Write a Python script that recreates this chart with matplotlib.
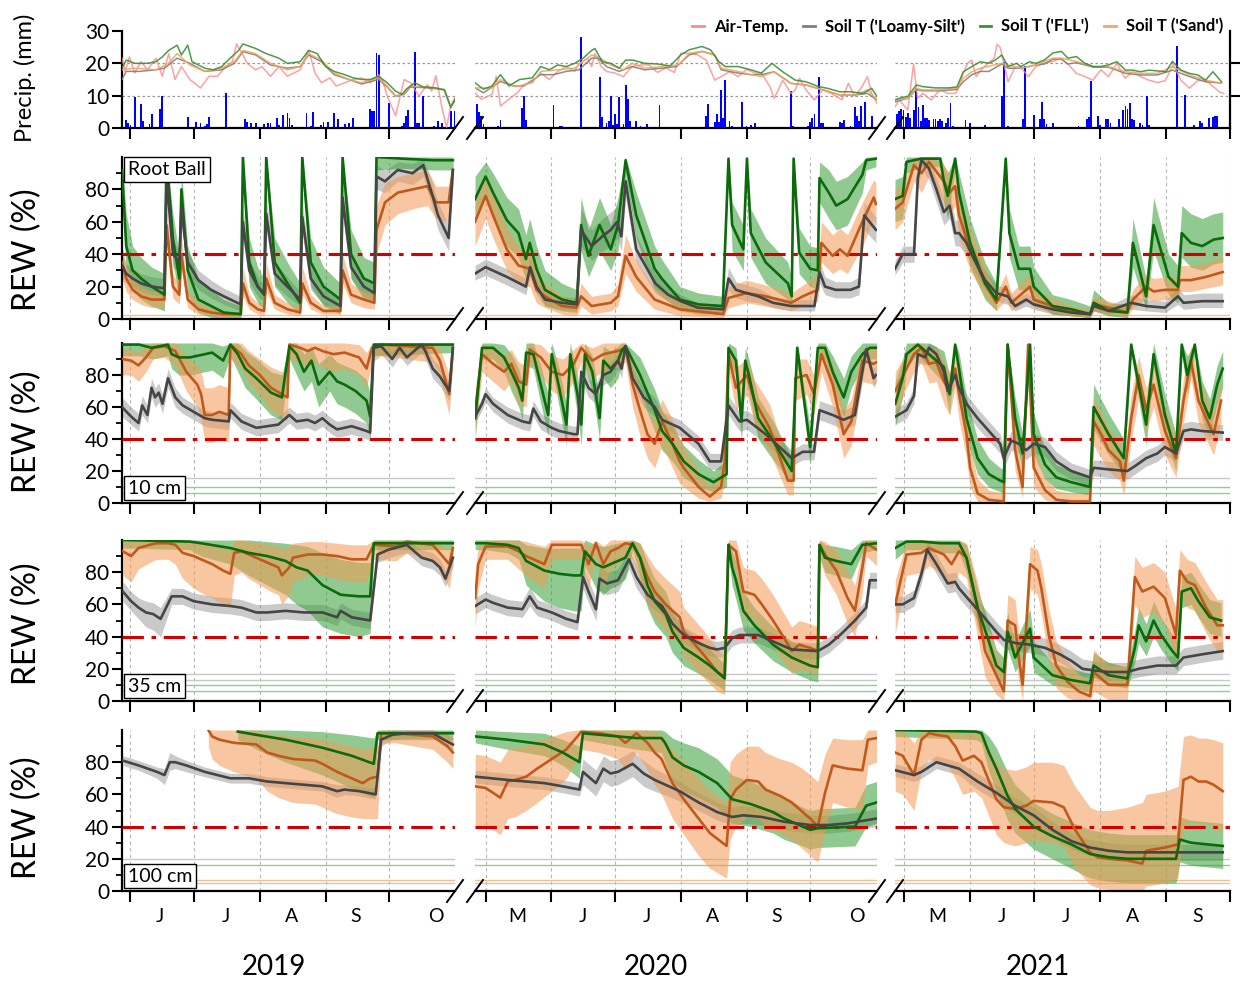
import numpy as np
import matplotlib.pyplot as plt
from matplotlib.lines import Line2D

plt.rcParams['font.family'] = ['Lato', 'DejaVu Sans']

# ---------------- precipitation (day of year, mm) ----------------
P19_DAY = [150, 151, 152, 154, 157, 158, 161, 162, 166, 167, 179, 183, 185, 187, 188, 189, 197, 206, 207, 209,
           211, 215, 217, 218, 221, 222, 224, 226, 227, 228, 235, 237, 238, 242, 243, 245, 248, 250, 253, 255,
           257, 263, 265, 266, 267, 268, 269, 274, 280, 281, 282, 283, 286, 287, 288, 290, 295, 297, 299, 303, 305]
P19_MM = [2.4, 1.5, 1.0, 9.5, 7.5, 2.2, 1.2, 4.3, 5.8, 9.9, 3.4, 1.8, 1.5, 0.7, 1.2, 3.4, 10.7, 2.9, 2.0, 1.4,
          1.4, 1.2, 1.4, 1.4, 3.0, 1.0, 3.9, 4.5, 3.0, 0.9, 4.6, 0.7, 4.8, 0.9, 1.9, 2.0, 4.5, 2.7, 1.2, 1.5,
          3.2, 0.2, 6.0, 5.4, 5.3, 23.3, 22.5, 7.6, 0.5, 1.7, 3.6, 5.5, 23.5, 1.5, 1.5, 9.9, 0.5, 2.3, 1.5, 5.3, 5.3]
P20_DAY = [118, 119, 120, 121, 128, 129, 139, 140, 141, 145, 154, 157, 158, 167, 176, 177, 179, 180, 181, 182,
           183, 184, 185, 187, 188, 189, 190, 193, 195, 198, 204, 226, 227, 230, 231, 232, 233, 234, 235, 237,
           238, 243, 245, 247, 249, 266, 267, 274, 275, 276, 277, 279, 280, 281, 289, 290, 291, 294, 296, 297,
           298, 299, 301, 304]
P20_MM = [7.3, 4.8, 3.6, 1.2, 0.7, 2.5, 6.3, 10.0, 2.5, 0.4, 7.0, 0.5, 0.5, 28.2, 15.7, 3.5, 1.7, 2.2, 9.9, 1.0,
          4.4, 1.3, 9.6, 1.2, 13.4, 9.0, 2.2, 2.1, 0.7, 1.2, 7.0, 3.6, 7.5, 1.9, 4.3, 1.9, 11.9, 3.0, 15.0, 2.2,
          0.7, 8.1, 0.7, 0.9, 1.5, 11.4, 0.7, 0.7, 1.9, 3.2, 4.3, 15.8, 1.5, 1.5, 1.9, 1.5, 2.5, 0.5, 6.4, 3.6,
          2.3, 6.8, 8.0, 3.6]
P21_DAY = [118, 119, 120, 121, 122, 123, 124, 126, 127, 128, 129, 130, 131, 132, 133, 135, 136, 137, 138, 139,
           141, 142, 143, 144, 150, 152, 154, 159, 167, 168, 170, 172, 175, 177, 178, 180, 182, 185, 186, 187,
           188, 191, 197, 203, 207, 208, 209, 210, 212, 213, 216, 217, 218, 222, 224, 225, 226, 227, 228, 229,
           232, 233, 235, 236, 237, 243, 249, 250, 253, 257, 260, 261, 264, 266, 267, 268]
P21_MM = [4.4, 5.2, 5.9, 5.7, 3.5, 4.6, 3.2, 5.7, 12.5, 6.5, 2.1, 7.2, 3.1, 3.0, 2.4, 2.9, 2.7, 2.1, 2.9, 2.3,
          1.4, 3.0, 7.8, 0.6, 2.4, 1.4, 0.4, 0.8, 9.8, 20.3, 0.6, 0.4, 0.4, 2.7, 19.2, 0.4, 3.9, 2.7, 8.0, 2.7,
          1.3, 1.6, 0.4, 0.6, 2.9, 3.4, 14.6, 0.4, 3.7, 0.8, 2.9, 2.9, 1.6, 2.9, 5.5, 6.7, 5.9, 7.6, 2.9, 2.5,
          1.4, 0.8, 9.8, 0.8, 0.4, 0.4, 25.3, 0.4, 10.2, 0.8, 2.1, 1.6, 3.2, 3.5, 3.7, 3.7]

# ---------------- temperatures (day, degC) ----------------
T_AIR_19 = [(148, 21.6), (149.5, 17.5), (151.5, 22), (154, 17), (157, 20.5), (160, 18), (164, 21.6), (167, 16),
            (170, 23), (173, 15), (176, 19), (180, 15), (185, 12.4), (189, 16), (193, 16), (197, 19), (200, 20.5),
            (202, 26), (205, 22.6), (207, 20), (211, 18), (214, 19), (218, 16), (222, 19), (226, 16), (232, 18),
            (236, 24), (239, 17), (242, 14), (246, 15.5), (249, 13), (253, 14), (257, 15), (261, 15.5), (265, 14),
            (269, 16.5), (271, 14.4), (273, 9.9), (277, 3.8), (281, 15), (284, 14), (288, 9.9), (292, 13.4),
            (294, 11.4), (296, 16.2), (299, 5.8), (301, 0.2), (303, 6.8), (305, 9.4)]
T_SILT_19 = [(148, 15), (150, 17.5), (156, 17.5), (164, 18), (168, 18.5), (174, 21.6), (180, 20), (187, 17.5),
             (195, 18), (201, 20), (205, 23.6), (211, 22.6), (218, 19.5), (226, 18.5), (232, 19), (236, 22.6),
             (242, 20.5), (248, 16.5), (255, 15), (261, 13.6), (269, 15), (273, 12.7), (277, 9.9), (281, 10.4),
             (284, 12.7), (292, 12.4), (300, 11.9), (303, 6.6), (305, 8.3)]
T_FLL_19 = [(148, 18.5), (150, 21), (154, 20), (160, 20), (164, 20.5), (167, 22), (170, 24), (174, 25.6),
            (176, 22.6), (179, 25.6), (181, 20.5), (187, 18.5), (191, 18), (195, 19), (199, 21.6), (203, 24),
            (205, 26), (211, 24.6), (216, 23), (222, 21.6), (226, 20), (232, 20.5), (236, 24), (240, 23),
            (244, 19), (248, 17.5), (253, 16.5), (257, 15.5), (261, 15), (265, 15), (269, 16), (273, 14),
            (277, 11.4), (280, 10.4), (282, 12), (286, 14), (290, 12.7), (296, 12.4), (300, 11.7), (303, 6.3),
            (305, 8.9)]
T_SAND_19 = [(148, 18), (154, 18.5), (164, 18), (170, 20), (174, 23), (180, 19.5), (187, 17.5), (195, 18.5),
             (201, 20.5), (205, 24), (211, 23), (218, 20), (226, 18), (232, 19), (236, 23), (242, 21), (248, 17),
             (255, 15), (261, 14), (269, 15.5), (273, 13), (277, 9.9), (281, 10.7), (284, 13), (292, 12.7),
             (300, 11.9), (303, 6.6), (305, 8.9)]
T_AIR_20 = [(117, 10.9), (120, 8.9), (125, 10.4), (127, 16), (129, 6.8), (133, 8.9), (137, 10.9), (140, 13.4),
            (144, 14.4), (148, 17), (152, 15), (156, 17.5), (160, 19), (164, 17.5), (166, 20), (170, 21.6),
            (172, 19), (173.5, 23), (176.5, 19), (179, 17.5), (183, 17), (187, 15.9), (191, 19), (195, 19.5),
            (199, 19.5), (203, 17.2), (207, 18.6), (211, 17.2), (214, 23.1), (218, 23.1), (222, 22.6), (226, 21),
            (230, 14.8), (233, 15.9), (237, 17.4), (241, 15.9), (245, 18.1), (249, 17), (252, 17), (256, 12.8),
            (258, 9.2), (260, 11.8), (262, 14.8), (266, 10.7), (268, 11.8), (270, 15.4), (273, 11.8), (277, 8.7),
            (281, 11.8), (285, 10.7), (290, 8.7), (293, 13.8), (296, 9.9), (299, 12.3), (302, 15.9), (304, 10.7),
            (306.5, 7.6)]
T_SILT_20 = [(117, 12.4), (121, 10.9), (129, 14.4), (135, 13), (140, 13), (148, 16.5), (154, 16.5), (160, 17.5),
             (166, 18), (172, 21.6), (175, 21.6), (179, 19), (185, 17.5), (191, 19), (197, 18), (205, 18.5),
             (212, 19), (218, 22.6), (224, 23.7), (230, 22.6), (233, 18), (241, 17), (247, 16.5), (252, 16.5),
             (258, 17.4), (266, 13.8), (273, 13.3), (281, 11.8), (289, 10.2), (296, 10.2), (302, 10.7), (306.5, 8.7)]
T_FLL_20 = [(117, 14), (121, 12), (125, 13), (129, 16.5), (133, 13), (138, 15), (144, 15.5), (148, 19), (152, 18),
            (156, 19.5), (160, 19), (164, 20), (168, 21.6), (172, 24), (173.5, 24.6), (177, 20.5), (181, 20),
            (185, 18.5), (188, 21), (191.5, 21), (197, 20), (203, 19.8), (209, 19.2), (214, 22.6), (218, 24.2),
            (224, 25.2), (228, 24.2), (232, 20.5), (235, 19), (241, 19), (247, 18), (252, 17), (257, 20),
            (262, 17.4), (268, 14.8), (273, 14.3), (279, 12.8), (283, 12.3), (289, 11.2), (294, 11.2), (300, 10.7),
            (304, 12.3), (306.5, 9.7)]
T_SAND_20 = [(117, 12.4), (125, 12.4), (129, 15), (136, 12.8), (144, 14), (148, 17.5), (156, 18), (164, 18.5),
             (172, 22.6), (175, 22), (181, 19.5), (187, 18), (191, 20), (197, 18.5), (205, 19), (213, 19.5),
             (218, 23.1), (224, 23.7), (230, 22.6), (233, 18.5), (241, 17.5), (247, 16.5), (252, 15.9), (258, 17.4),
             (266, 13.8), (273, 13.3), (281, 11.8), (289, 10.2), (296, 10.2), (302, 11.8), (306.5, 8.7)]
T_AIR_21 = [(117, 6.6), (119, 8.7), (123, 5.6), (125.7, 19.8), (127.6, 9.2), (130, 10.7), (134, 8.7), (138, 11.8),
            (142, 10.7), (145.5, 10.7), (148.4, 15.9), (151, 20), (153, 21), (155, 15.9), (158, 18.5), (160.6, 20),
            (163.5, 21.6), (164.8, 25.9), (166.3, 24.9), (168, 20), (170, 14.3), (173, 18.5), (175.7, 19),
            (179.5, 15.9), (183, 19), (187, 20), (191, 20.6), (194.6, 21.6), (198.4, 19.5), (202, 16.9), (206, 15.9),
            (209.7, 14.8), (213.5, 18), (217, 15.9), (221, 20), (224.8, 15.4), (228.5, 17.4), (232, 15.9),
            (236, 14.8), (240, 14.1), (243.6, 14.6), (247.4, 19.6), (251, 14.8), (255, 12.3), (258.7, 14.6),
            (262.5, 14.8), (266, 12.9), (269, 11.2), (271, 10.7)]
T_SILT_21 = [(117, 8.1), (123, 9.2), (127, 11.9), (130, 11.5), (138, 11.5), (146, 11.9), (149, 14.3), (153, 16.5),
             (157, 17.5), (161, 17.5), (167, 19.8), (170, 18.5), (176, 18.5), (183, 19.5), (187, 19.8), (191, 21.3),
             (195, 21.3), (198, 19.8), (202, 20.2), (210, 18.8), (217, 18.8), (225, 16.9), (232, 16.4), (240, 16.4),
             (247, 17.9), (255, 15.9), (262.5, 14.3), (270, 13.9)]
T_FLL_21 = [(117, 8.7), (119, 9.2), (123, 9.8), (127, 13.3), (130, 12.8), (136, 12.4), (142, 12.4), (146, 12.7),
            (149, 17.4), (153, 19), (157, 20.5), (161, 20), (164, 21), (167, 22.6), (170, 19), (174, 20), (176, 19),
            (180, 20.5), (183, 20), (187, 21), (191, 23.2), (195, 23.7), (198, 21.6), (202, 22.1), (206, 20),
            (210, 19), (213.5, 19), (217, 19.5), (221, 20.5), (225, 17.9), (228.5, 17.9), (232, 17.4), (236, 17.9),
            (244, 17.4), (247, 20.6), (251, 17.9), (255, 16.9), (259, 16.4), (262.5, 14.8), (266, 17.4), (270, 14.3)]
T_SAND_21 = [(117, 8.7), (123, 9.2), (127, 12.3), (130, 11.8), (138, 11.8), (146, 12.3), (149, 15.4), (153, 17.4),
             (157, 18.5), (167, 20), (176, 18.5), (183, 19.5), (191, 21.6), (195, 21.6), (202, 20.6), (210, 19),
             (217, 19), (225, 17.4), (232, 16.9), (240, 16.9), (247, 19), (255, 16.4), (262.5, 14.8), (270, 13.9)]

# ---------------- REW (day, low, median, high) ----------------
# Root ball
RB_SILT_19 = [(148, 25, 33, 40), (150, 22, 28, 34), (153, 20, 25, 31), (157, 17, 22, 28), (162, 15, 20, 26),
              (168, 14, 19, 25), (169, 75, 88, 95), (172, 32, 40, 48), (175, 28, 35, 42), (176, 58, 68, 78),
              (179, 28, 35, 42), (184, 18, 24, 30), (190, 13, 18, 24), (196, 9, 14, 19), (204, 5, 9, 14),
              (205, 50, 60, 70), (208, 23, 30, 37), (212, 14, 20, 26), (215, 11, 16, 21), (216, 55, 65, 75),
              (220, 21, 28, 35), (226, 14, 20, 26), (232, 8, 12, 17), (233, 52, 63, 72), (237, 18, 25, 32),
              (243, 9, 14, 19), (251, 4, 8, 12), (252, 65, 75, 85), (256, 25, 32, 40), (262, 14, 20, 26),
              (267, 11, 16, 21), (268, 80, 88, 95), (272, 78, 85, 92), (278, 85, 92, 97), (285, 83, 90, 96),
              (290, 88, 95, 99), (294, 70, 78, 86), (297, 55, 64, 72), (302, 42, 50, 58), (304, 85, 92, 98)]
RB_FLL_19 = [(148, 75, 92, 100), (150, 30, 45, 65), (153, 18, 30, 45), (157, 12, 25, 38), (162, 8, 20, 32),
             (168, 5, 15, 28), (169, 90, 100, 100), (172, 35, 50, 65), (175, 12, 25, 40), (176, 65, 80, 92),
             (179, 15, 30, 45), (184, 4, 12, 25), (190, 1, 8, 18), (196, 0, 4, 12), (204, 0, 3, 8),
             (205, 90, 100, 100), (208, 20, 35, 50), (212, 10, 20, 32), (215, 6, 15, 25), (216, 90, 100, 100),
             (220, 20, 35, 50), (226, 10, 22, 35), (232, 3, 10, 22), (233, 90, 100, 100), (237, 20, 35, 50),
             (243, 8, 20, 32), (251, 3, 12, 22), (252, 90, 100, 100), (256, 25, 40, 55), (262, 12, 25, 38),
             (267, 10, 22, 35), (268, 92, 100, 100), (280, 93, 99, 100), (295, 92, 98, 100), (304, 92, 98, 100)]
RB_SAND_19 = [(148, 25, 35, 45), (150, 17, 25, 33), (153, 12, 18, 25), (157, 9, 14, 20), (162, 7, 12, 17),
              (168, 7, 12, 17), (169, 45, 58, 70), (172, 13, 20, 28), (175, 9, 15, 21), (176, 30, 40, 50),
              (179, 7, 12, 18), (184, 3, 6, 10), (190, 2, 4, 7), (196, 1, 3, 5), (204, 1, 3, 5), (205, 14, 22, 32),
              (208, 6, 10, 15), (212, 3, 6, 10), (215, 2, 5, 8), (216, 17, 25, 35), (220, 6, 10, 15), (226, 3, 6, 10),
              (232, 2, 4, 7), (233, 15, 22, 32), (237, 6, 10, 15), (243, 3, 5, 8), (251, 3, 5, 8), (252, 22, 30, 40),
              (256, 10, 15, 22), (262, 7, 12, 17), (267, 6, 10, 15), (268, 40, 55, 70), (272, 58, 72, 84),
              (278, 65, 78, 88), (285, 68, 80, 90), (292, 70, 82, 92), (296, 62, 72, 82), (302, 60, 72, 82),
              (304, 82, 92, 98)]
RB_SILT_20 = [(117, 24, 28, 33), (122, 27, 32, 37), (132, 21, 26, 31), (141, 15, 20, 25), (143, 26, 32, 38),
              (146, 15, 20, 25), (150, 8, 12, 17), (158, 6, 10, 14), (165, 5, 9, 13), (167, 45, 55, 68),
              (172, 36, 45, 55), (177, 42, 51, 62), (181, 45, 55, 66), (184, 50, 60, 70), (186, 42, 51, 62),
              (188, 75, 85, 93), (193, 35, 43, 52), (202, 16, 22, 28), (208, 11, 15, 20), (214, 7, 11, 15),
              (222, 4, 7, 10), (234, 3, 6, 9), (236.5, 18, 25, 32), (240, 13, 18, 23), (245, 11, 16, 21),
              (250.5, 10, 14, 19), (257.5, 7, 10, 14), (266, 5, 8, 12), (277, 5, 8, 12), (279.4, 22, 29, 36),
              (282, 15, 20, 26), (287, 13, 18, 23), (294, 13, 18, 23), (298, 15, 20, 26), (300.5, 55, 64, 72),
              (306, 47, 55, 63)]
RB_FLL_20 = [(117, 60, 74, 88), (122, 75, 88, 97), (125.5, 63, 78, 90), (132, 45, 61, 75), (137.5, 38, 53, 68),
             (141, 24, 37, 52), (142.8, 33, 47, 62), (146, 18, 31, 45), (150, 8, 18, 30), (158, 5, 12, 22),
             (165, 4, 10, 18), (167, 42, 58, 75), (170.5, 26, 39, 55), (175.7, 42, 58, 75), (181, 30, 43, 58),
             (184.4, 42, 58, 75), (188, 90, 98, 100), (193, 50, 64, 78), (201.7, 18, 31, 45), (205, 14, 25, 37),
             (213.6, 5, 12, 20), (222.4, 3, 9, 16), (233.8, 3, 8, 14), (236.5, 92, 99, 100), (238.2, 42, 58, 72),
             (243.5, 30, 43, 58), (245.2, 92, 99, 100), (247, 38, 53, 68), (254, 22, 35, 50), (264.5, 12, 22, 35),
             (266.3, 7, 14, 25), (267.2, 92, 99, 100), (269.8, 28, 41, 56), (275, 20, 31, 45), (278.6, 18, 30, 44),
             (279.4, 72, 87, 97), (283.8, 62, 78, 92), (287.3, 55, 70, 85), (292.6, 58, 74, 88), (299.6, 78, 89, 97),
             (301.4, 92, 98, 100), (306, 94, 99, 100)]
RB_SAND_20 = [(117, 45, 60, 72), (122, 62, 76, 88), (125.5, 50, 64, 77), (132, 30, 43, 56), (137.5, 22, 33, 45),
              (142.8, 20, 31, 42), (146, 10, 18, 28), (150, 7, 14, 22), (158, 3, 8, 14), (165, 2, 7, 12),
              (167, 8, 14, 22), (172, 3, 8, 14), (181, 5, 10, 16), (184.4, 8, 14, 22), (188, 28, 39, 52),
              (193, 17, 26, 36), (201.7, 6, 12, 19), (213.5, 2, 6, 11), (234, 1, 3, 7), (236.5, 7, 13, 20),
              (245, 10, 16, 24), (254, 8, 14, 21), (266, 5, 10, 16), (271.5, 8, 14, 21), (278.6, 11, 18, 27),
              (280.3, 35, 47, 60), (285.6, 28, 39, 52), (289, 31, 43, 56), (292.6, 28, 39, 52), (299.6, 45, 60, 72),
              (305, 62, 75, 86), (306, 58, 71, 84)]
RB_SILT_21 = [(117, 27, 31, 36), (120.6, 35, 40, 45), (125.9, 35, 40, 45), (127.7, 80, 87, 93), (129.4, 93, 98, 100),
              (132.9, 86, 93, 98), (136.4, 72, 80, 87), (139.9, 58, 66, 74), (142.6, 62, 70, 78), (145.2, 45, 53, 61),
              (147, 45, 53, 61), (150.5, 40, 47, 55), (154, 30, 37, 44), (159.2, 18, 24, 30), (164.5, 11, 16, 21),
              (169.8, 9, 14, 19), (173.3, 5, 8, 12), (178.5, 8, 12, 16), (182, 6, 9, 13), (190.8, 3, 6, 9),
              (199.6, 2, 4, 7), (208.4, 1, 3, 5), (210.1, 5, 8, 12), (217.1, 3, 5, 8), (227.7, 6, 10, 15),
              (234.7, 5, 8, 12), (243.5, 4, 7, 11), (249.6, 9, 14, 20), (252.2, 6, 10, 15), (261, 7, 11, 16),
              (270.6, 7, 11, 16)]
RB_FLL_21 = [(117, 60, 74, 86), (120.6, 62, 76, 88), (122.4, 90, 97, 100), (129.4, 94, 99, 100), (138.2, 94, 99, 100),
             (139.9, 72, 85, 95), (141.7, 62, 76, 90), (145.2, 92, 99, 100), (147, 64, 78, 90), (152.2, 32, 47, 62),
             (159.2, 12, 22, 35), (164.5, 5, 12, 22), (168.9, 92, 99, 100), (170.6, 38, 53, 68), (175, 18, 31, 45),
             (180.3, 18, 31, 45), (182, 10, 20, 32), (190.8, 3, 8, 15), (199.6, 2, 6, 12), (208.4, 1, 3, 8),
             (210.1, 5, 10, 18), (217.1, 2, 5, 10), (225.9, 1, 4, 9), (228.5, 32, 47, 62), (234.7, 6, 14, 25),
             (238.2, 42, 58, 75), (245.2, 15, 26, 40), (249.6, 10, 20, 33), (251.4, 38, 53, 70), (255.7, 32, 47, 65),
             (261, 30, 45, 62), (266.3, 34, 49, 65), (270.6, 35, 50, 66)]
RB_SAND_21 = [(117, 55, 68, 80), (120.6, 60, 72, 83), (125.9, 85, 95, 100), (129.4, 78, 90, 98), (132.9, 88, 97, 100),
              (139.9, 72, 85, 95), (142.6, 65, 78, 90), (145.2, 70, 82, 93), (147, 50, 64, 77), (152.2, 30, 43, 56),
              (159.2, 14, 22, 32), (164.5, 5, 10, 16), (168.9, 12, 20, 28), (171.5, 5, 10, 16), (180.3, 12, 20, 28),
              (182, 7, 12, 18), (190.8, 4, 8, 13), (199.6, 2, 4, 8), (208.4, 1, 3, 6), (210.1, 5, 9, 14),
              (217.1, 3, 7, 11), (225.9, 1, 4, 8), (228.5, 7, 12, 18), (234.7, 13, 20, 28), (238.2, 11, 17, 25),
              (243.5, 12, 18, 26), (249.6, 12, 18, 26), (250.5, 17, 24, 33), (255.7, 17, 24, 33), (262.8, 19, 26, 35),
              (270.6, 21, 29, 38)]
# 10 cm
S10_SILT_19 = [(148, 54, 60, 66), (152.3, 49, 54, 60), (155.8, 45, 50, 56), (157.5, 55, 61, 67), (160, 50, 55, 61),
               (161.9, 66, 72, 78), (163.6, 60, 66, 72), (165.3, 63, 69, 75), (167.1, 56, 62, 68), (169.7, 72, 78, 84),
               (173.1, 60, 66, 72), (176.6, 56, 61, 66), (181.8, 52, 57, 62), (187, 48, 53, 58), (190.5, 47, 52, 57),
               (198.3, 46, 51, 56), (199.1, 53, 58, 63), (204.3, 46, 51, 56), (211.3, 42, 47, 52), (216.5, 43, 48, 53),
               (221.7, 44, 49, 54), (226.9, 50, 55, 60), (230.3, 46, 51, 56), (235.5, 47, 52, 57), (239, 45, 50, 55),
               (242.5, 48, 53, 58), (245.9, 44, 49, 54), (249.4, 41, 46, 51), (256.3, 43, 48, 53), (263.3, 40, 45, 50),
               (265, 39, 44, 49), (266.7, 92, 97, 100), (270.2, 93, 98, 100), (275.4, 85, 90, 95), (278.9, 92, 97, 100),
               (282.3, 86, 91, 96), (287.5, 92, 97, 100), (289.3, 94, 99, 100), (291, 90, 95, 100), (294.5, 78, 84, 90),
               (297.9, 73, 79, 85), (302.3, 64, 70, 76), (304, 92, 97, 100)]
S10_FLL_19 = [(148, 92, 99, 100), (156, 92, 99, 100), (162, 90, 97, 100), (169.7, 92, 99, 100), (171.4, 84, 93, 100),
              (174.9, 80, 91, 100), (180.1, 80, 91, 100), (187, 82, 93, 100), (190.5, 83, 94, 100), (195.7, 78, 89, 98),
              (199.1, 92, 99, 100), (202.6, 82, 93, 100), (206.1, 72, 84, 95), (211.3, 65, 78, 90), (218.2, 55, 69, 82),
              (223.4, 52, 66, 80), (226.9, 90, 98, 100), (230.3, 80, 93, 100), (233.8, 70, 82, 93), (237.3, 76, 89, 98),
              (240.7, 60, 74, 87), (245.9, 70, 82, 93), (249.4, 62, 76, 88), (252.9, 60, 74, 86), (258.1, 56, 70, 83),
              (263.3, 50, 64, 77), (265, 40, 54, 68), (266.7, 92, 99, 100), (304, 94, 99, 100)]
S10_SAND_19 = [(148, 80, 90, 97), (152.3, 80, 89, 96), (155.8, 76, 86, 94), (159.3, 82, 91, 98), (162.7, 90, 97, 100),
               (168, 91, 98, 100), (173.1, 86, 95, 100), (178.3, 70, 82, 92), (183.5, 60, 74, 86), (185.3, 52, 68, 82),
               (187, 38, 55, 72), (190.5, 38, 55, 72), (193.9, 40, 57, 74), (198.3, 38, 55, 72), (199.1, 90, 99, 100),
               (204.3, 84, 93, 100), (207.8, 75, 86, 95), (213, 68, 80, 90), (218.2, 58, 72, 85), (223.4, 54, 68, 82),
               (226, 52, 66, 80), (226.9, 90, 99, 100), (232.1, 88, 97, 100), (235.5, 85, 95, 100), (239, 88, 97, 100),
               (242.5, 85, 95, 100), (247.7, 82, 93, 100), (252.9, 84, 94, 100), (259.8, 80, 91, 99), (263.3, 72, 84, 94),
               (265.9, 88, 97, 100), (270.2, 92, 99, 100), (294.5, 88, 97, 100), (297.9, 78, 89, 97), (302.3, 55, 68, 80),
               (304, 88, 97, 100)]
S10_SILT_20 = [(117.1, 50, 54, 58), (120.3, 58, 62, 66), (122, 63, 68, 72), (125.5, 57, 62, 66), (132.4, 50, 55, 60),
               (139.3, 46, 51, 56), (142.8, 45, 50, 55), (144.5, 54, 59, 64), (148, 46, 51, 56), (153.2, 42, 47, 52),
               (156.7, 40, 45, 50), (163.6, 38, 43, 48), (165.3, 38, 43, 48), (167.1, 76, 82, 88), (170.5, 66, 72, 78),
               (174, 62, 68, 74), (177.5, 74, 80, 86), (180.9, 76, 82, 88), (184.4, 84, 89, 94), (186.1, 78, 84, 90),
               (187.9, 94, 98, 100), (191.3, 72, 78, 84), (196.5, 60, 66, 72), (201.7, 54, 60, 66), (205.2, 47, 52, 57),
               (213.5, 42, 47, 52), (222.4, 32, 37, 42), (227.7, 21, 26, 31), (233, 21, 26, 31), (236.5, 55, 61, 67),
               (241.7, 45, 51, 57), (245.2, 46, 52, 58), (254, 37, 43, 49), (266.3, 23, 28, 33), (271.5, 27, 32, 37),
               (276.8, 27, 32, 37), (279.4, 52, 58, 64), (285.6, 49, 55, 61), (290.8, 46, 52, 58), (296.1, 49, 55, 61),
               (301.4, 91, 96, 100), (304.9, 72, 78, 84), (306, 75, 80, 86)]
S10_FLL_20 = [(117.1, 40, 53, 66), (120.3, 90, 97, 100), (125.5, 90, 97, 100), (130.7, 82, 91, 99), (134.1, 70, 82, 93),
              (137.6, 60, 72, 84), (139.3, 52, 64, 76), (141.1, 86, 94, 100), (144.5, 84, 93, 100), (148, 62, 74, 86),
              (151.5, 42, 55, 68), (153.2, 84, 93, 100), (156.7, 60, 72, 84), (160.1, 36, 49, 62), (161.9, 84, 93, 100),
              (165.3, 55, 68, 80), (167.1, 36, 49, 62), (168.8, 84, 93, 100), (172.3, 70, 82, 92), (175.7, 40, 53, 66),
              (177.5, 78, 89, 98), (180.9, 72, 84, 95), (184.4, 78, 89, 98), (186.1, 88, 95, 100), (187.9, 92, 98, 100),
              (194.8, 68, 80, 91), (201.7, 45, 58, 71), (205.2, 33, 45, 58), (210.1, 26, 37, 48), (215.4, 16, 26, 36),
              (222.4, 10, 18, 27), (229.4, 7, 13, 20), (235.6, 10, 18, 27), (236.5, 90, 97, 100), (240, 80, 89, 97),
              (242.6, 38, 51, 64), (244.4, 80, 89, 97), (246.1, 68, 80, 90), (250.5, 40, 53, 66), (257.5, 27, 39, 51),
              (266.3, 12, 20, 29), (268.9, 90, 97, 100), (275, 24, 35, 47), (278.6, 90, 97, 100), (282, 90, 97, 100),
              (285.6, 72, 82, 92), (290.8, 54, 66, 78), (294.4, 72, 82, 92), (299.6, 85, 93, 100), (303.1, 90, 97, 100),
              (306.3, 90, 97, 100)]
S10_SAND_20 = [(117.1, 42, 58, 72), (120.3, 82, 93, 100), (125.5, 76, 87, 96), (130.7, 70, 82, 92), (134.1, 76, 87, 96),
               (137.6, 62, 76, 88), (141.1, 60, 74, 86), (142.8, 88, 96, 100), (148, 80, 91, 99), (153.2, 70, 82, 92),
               (158.4, 66, 80, 90), (163.6, 76, 87, 96), (167.1, 88, 97, 100), (172.3, 78, 89, 97), (177.5, 82, 93, 100),
               (180.9, 84, 94, 100), (184.4, 85, 95, 100), (187.9, 88, 97, 100), (191.3, 60, 74, 86), (194.8, 42, 58, 72),
               (198.3, 28, 43, 58), (201.7, 22, 37, 52), (205.2, 36, 51, 65), (208.7, 26, 41, 56), (213.5, 12, 26, 40),
               (215.4, 10, 22, 35), (222.4, 3, 10, 20), (227.7, 1, 4, 10), (233, 3, 10, 20), (234.7, 14, 26, 40),
               (236.5, 82, 93, 100), (240, 58, 72, 85), (245.2, 68, 80, 90), (248.7, 50, 64, 77), (255.8, 32, 47, 62),
               (264.5, 5, 14, 25), (267.2, 5, 14, 25), (268, 64, 78, 90), (273.3, 68, 80, 90), (276.8, 55, 68, 80),
               (280.3, 82, 93, 100), (285.6, 60, 74, 86), (290.8, 28, 43, 58), (294.4, 36, 51, 65), (299.6, 76, 89, 97),
               (304.9, 74, 87, 96), (306.3, 76, 88, 97)]
S10_SILT_21 = [(117.1, 49, 54, 59), (122.4, 53, 58, 63), (125.9, 62, 67, 72), (127.7, 88, 93, 98), (131.2, 86, 91, 96),
               (132.9, 92, 97, 100), (136.4, 88, 93, 98), (139.9, 77, 82, 87), (141.7, 64, 70, 76), (145.2, 74, 80, 86),
               (147, 66, 72, 78), (150.5, 56, 62, 68), (155.7, 47, 53, 59), (161, 39, 45, 51), (166.3, 31, 37, 43),
               (168, 22, 28, 34), (171.5, 33, 39, 45), (175, 31, 37, 43), (178.5, 27, 33, 39), (182, 31, 37, 43),
               (187.3, 29, 35, 41), (192.6, 20, 26, 32), (199.6, 15, 20, 25), (208.4, 11, 16, 21), (210.1, 17, 22, 27),
               (217.1, 16, 21, 26), (225.9, 15, 20, 25), (229.4, 18, 23, 28), (234.7, 23, 28, 33), (240, 26, 31, 36),
               (243.5, 30, 35, 40), (248.7, 26, 31, 36), (252.2, 40, 45, 50), (255.7, 41, 46, 51), (261, 40, 45, 50),
               (270.6, 39, 44, 49)]
S10_FLL_21 = [(117.1, 48, 62, 76), (120.6, 66, 78, 90), (122.4, 85, 93, 100), (127.7, 93, 99, 100), (132.9, 85, 93, 100),
              (139.9, 75, 85, 95), (142.6, 55, 68, 80), (145.2, 93, 99, 100), (147, 72, 84, 94), (150.5, 40, 53, 66),
              (155.7, 18, 28, 40), (161, 10, 18, 28), (166.3, 7, 14, 22), (168, 6, 13, 21), (169.8, 93, 99, 100),
              (173.3, 40, 53, 66), (176.8, 20, 31, 43), (180.3, 93, 99, 100), (182, 30, 43, 56), (187.3, 15, 24, 34),
              (192.6, 9, 16, 24), (199.6, 7, 13, 20), (208.4, 5, 10, 16), (210.1, 46, 60, 74), (217.1, 30, 43, 56),
              (224.2, 18, 28, 40), (227.7, 93, 99, 100), (234.7, 36, 49, 62), (238.2, 84, 93, 100), (243.5, 42, 55, 68),
              (248.7, 20, 31, 43), (251.4, 93, 99, 100), (254, 68, 80, 92), (257.5, 93, 99, 100), (261, 52, 64, 76),
              (264.5, 42, 53, 65), (268, 62, 74, 86), (270.6, 72, 84, 95)]
S10_SAND_21 = [(117.1, 55, 70, 82), (122.4, 72, 84, 94), (125.9, 82, 93, 100), (129.4, 88, 97, 100), (132.9, 75, 87, 96),
               (136.4, 76, 88, 97), (139.9, 62, 76, 88), (142.6, 55, 70, 82), (145.2, 72, 84, 94), (147, 52, 68, 80),
               (150.5, 28, 43, 58), (152.2, 10, 22, 35), (155.7, 1, 6, 15), (161, 0, 2, 8), (168, 0, 1, 6),
               (169.8, 90, 99, 100), (173.3, 20, 33, 46), (176.8, 3, 10, 20), (179.4, 90, 99, 100), (182, 10, 22, 35),
               (187.3, 2, 8, 16), (192.6, 0, 2, 8), (199.6, 0, 1, 6), (208.4, 0, 1, 6), (210.1, 36, 51, 65),
               (213.6, 28, 43, 58), (217.1, 20, 33, 46), (222.4, 14, 26, 38), (224.2, 5, 14, 25), (227.7, 38, 53, 68),
               (231.2, 66, 80, 92), (234.7, 44, 58, 72), (238.2, 60, 74, 86), (243.5, 30, 45, 60), (248.7, 16, 28, 40),
               (252.2, 50, 64, 78), (255.7, 78, 89, 98), (259.2, 50, 64, 78), (262.8, 40, 53, 66), (266.3, 30, 43, 56),
               (269.8, 50, 64, 78)]
# 35 cm
S35_SILT_19 = [(148.4, 62, 68, 74), (152.3, 56, 62, 68), (155.8, 51, 58, 64), (159.3, 46, 55, 62), (162.7, 44, 54, 61),
               (166.2, 40, 51, 58), (168.8, 50, 58, 64), (171.4, 60, 65, 70), (176.6, 60, 65, 70), (181.8, 57, 62, 67),
               (190.5, 55, 60, 65), (199.1, 54, 59, 64), (204.3, 53, 58, 63), (211.3, 50, 55, 60), (216.5, 50, 55, 60),
               (225.1, 51, 56, 61), (233.8, 50, 55, 60), (242.5, 50, 55, 60), (249.4, 47, 52, 57), (251.1, 51, 56, 61),
               (256.3, 47, 52, 57), (265, 45, 50, 55), (268.5, 86, 91, 96), (273.7, 89, 94, 99), (282.3, 92, 97, 100),
               (289.3, 84, 89, 94), (294.5, 82, 87, 92), (297.9, 78, 83, 88), (300.5, 71, 76, 81), (304, 84, 89, 94)]
S35_FLL_19 = [(148.4, 95, 100, 100), (180, 94, 99, 100), (185.3, 90, 98, 100), (199.1, 85, 95, 100), (207.8, 78, 92, 100),
              (216.5, 72, 90, 99), (225.1, 66, 87, 98), (230.3, 60, 83, 97), (235.5, 56, 81, 96), (242.5, 46, 72, 92),
              (251.1, 42, 66, 88), (259.8, 40, 65, 86), (265, 42, 65, 86), (266.7, 94, 98, 100), (304, 94, 98, 100)]
S35_SAND_19 = [(148.4, 78, 93, 100), (152.3, 74, 90, 100), (155.8, 82, 95, 100), (161, 86, 97, 100), (164.5, 88, 98, 100),
               (169.7, 88, 98, 100), (173.1, 85, 97, 100), (176.6, 76, 92, 100), (181.8, 70, 90, 99), (187, 66, 87, 98),
               (190.5, 64, 85, 97), (195.7, 60, 81, 95), (199.1, 58, 79, 94), (200.9, 78, 92, 100), (204.3, 80, 93, 100),
               (207.8, 76, 91, 99), (213, 72, 88, 98), (218.2, 68, 85, 97), (221.7, 66, 83, 96), (223.4, 60, 78, 94),
               (226.9, 66, 83, 96), (228.6, 74, 89, 98), (235.5, 78, 91, 99), (242.5, 78, 91, 99), (249.4, 76, 90, 98),
               (256.3, 74, 88, 97), (263.3, 74, 88, 97), (266.7, 88, 97, 100), (277.1, 87, 96, 100), (282.3, 92, 99, 100),
               (294.5, 88, 97, 100), (299.7, 76, 89, 96), (302.3, 70, 85, 94), (304, 85, 95, 100)]
S35_SILT_20 = [(117.1, 54, 59, 64), (122, 58, 63, 68), (125.5, 56, 61, 66), (132.4, 53, 58, 63), (139.3, 52, 57, 62),
               (142.8, 59, 65, 71), (146.3, 53, 58, 63), (153.2, 50, 55, 60), (160.1, 46, 51, 56), (165.3, 44, 49, 54),
               (167.9, 70, 77, 83), (170.5, 61, 68, 75), (174, 50, 57, 64), (175.7, 69, 76, 83), (179.2, 66, 73, 80),
               (184.4, 68, 75, 82), (189.6, 82, 88, 94), (193.1, 70, 77, 84), (198.3, 60, 66, 72), (205.2, 53, 59, 65),
               (210.1, 43, 48, 54), (215.4, 36, 41, 46), (222.4, 31, 36, 41), (227.7, 28, 33, 38), (231.2, 27, 32, 37),
               (234.7, 28, 33, 38), (238.2, 34, 39, 44), (241.7, 36, 41, 46), (250.5, 36, 41, 46), (257.5, 32, 37, 42),
               (266.3, 27, 32, 37), (278.6, 26, 31, 36), (283.8, 30, 35, 40), (289.1, 36, 41, 46), (296.1, 45, 50, 55),
               (301.4, 53, 58, 63), (303.1, 70, 75, 80), (306.3, 70, 75, 80)]
S35_FLL_20 = [(117.1, 94, 98, 100), (122, 94, 98, 100), (132.4, 92, 97, 100), (137.6, 88, 95, 100), (141.1, 72, 87, 97),
              (149.7, 62, 81, 95), (156.7, 58, 79, 95), (163.6, 56, 78, 95), (167.1, 56, 78, 95), (168.8, 84, 93, 100),
              (174, 70, 85, 97), (177.5, 66, 83, 96), (180.9, 70, 85, 97), (184.4, 72, 87, 98), (187.9, 76, 89, 99),
              (191.3, 94, 98, 100), (194.8, 78, 89, 98), (198.3, 58, 72, 86), (201.7, 48, 62, 76), (206.9, 40, 54, 68),
              (210.1, 30, 43, 56), (215.4, 22, 33, 45), (222.4, 17, 27, 38), (227.7, 13, 22, 32), (233, 8, 16, 25),
              (234.7, 6, 14, 23), (236.5, 90, 97, 100), (238.2, 72, 83, 93), (240, 63, 75, 87), (243.5, 44, 56, 68),
              (248.7, 36, 47, 58), (257.5, 25, 35, 46), (266.3, 18, 27, 37), (275, 13, 22, 32), (278.6, 12, 21, 31),
              (279.4, 90, 97, 100), (282, 80, 89, 97), (287.3, 78, 87, 96), (294.4, 76, 85, 94), (299.6, 92, 97, 100),
              (306.3, 94, 98, 100)]
S35_SAND_20 = [(117.1, 45, 64, 80), (118.5, 70, 85, 96), (122, 88, 96, 100), (132.4, 88, 96, 100), (137.6, 82, 93, 100),
               (141.1, 78, 90, 99), (149.7, 70, 85, 96), (153.2, 88, 97, 100), (167.1, 88, 97, 100), (170.5, 70, 85, 96),
               (174, 90, 98, 100), (177.5, 70, 85, 96), (180.9, 82, 93, 100), (184.4, 85, 95, 100), (187.9, 90, 98, 100),
               (191.3, 88, 97, 100), (194.8, 75, 89, 98), (198.3, 60, 77, 90), (201.7, 52, 68, 83), (206.9, 44, 60, 76),
               (213.5, 36, 52, 68), (215.4, 28, 43, 58), (220.7, 20, 35, 50), (225.9, 13, 27, 42), (231.2, 6, 18, 32),
               (234.7, 4, 15, 28), (236.5, 88, 97, 100), (240, 80, 93, 100), (243.5, 52, 68, 83), (248.7, 50, 66, 81),
               (252.2, 44, 60, 76), (257.5, 34, 50, 66), (262.8, 24, 39, 54), (266.3, 17, 31, 46), (269.8, 20, 35, 50),
               (275, 18, 33, 48), (278.6, 17, 31, 46), (279.4, 88, 97, 100), (282, 78, 91, 99), (287.3, 66, 81, 94),
               (292.6, 48, 64, 80), (296.1, 40, 56, 72), (299.6, 68, 83, 95), (301.4, 90, 98, 100), (306.3, 84, 94, 100)]
S35_SILT_21 = [(117.1, 55, 60, 65), (120.6, 55, 60, 65), (125.9, 59, 64, 69), (129.4, 73, 79, 85), (132.1, 89, 94, 99),
               (136.4, 79, 85, 91), (141.7, 67, 73, 79), (145.2, 68, 74, 80), (147, 64, 70, 76), (152.2, 56, 62, 68),
               (157.5, 48, 54, 60), (164.5, 38, 43, 49), (168, 33, 38, 44), (173.3, 31, 36, 42), (180.3, 30, 35, 41),
               (187.3, 28, 33, 39), (194.3, 24, 29, 35), (199.6, 20, 25, 31), (204.9, 15, 20, 26), (210.1, 14, 19, 25),
               (217.1, 13, 18, 24), (225.9, 13, 18, 24), (231.2, 15, 20, 26), (240, 17, 22, 28), (248.7, 17, 22, 28),
               (252.2, 22, 27, 33), (261, 24, 29, 35), (270.6, 26, 31, 37)]
S35_FLL_21 = [(117.1, 88, 95, 100), (122.4, 94, 99, 100), (129.4, 94, 99, 100), (138.2, 92, 98, 100), (147, 92, 98, 100),
              (150.5, 80, 89, 97), (155.7, 46, 58, 70), (161, 27, 37, 48), (164.5, 14, 22, 32), (168, 11, 18, 27),
              (169.8, 32, 43, 55), (173.3, 18, 27, 37), (180.3, 34, 45, 57), (182, 18, 27, 37), (190.8, 10, 16, 24),
              (199.6, 8, 13, 20), (208.4, 6, 11, 17), (210.1, 15, 22, 30), (217.1, 10, 16, 24), (225.9, 8, 14, 21),
              (229.4, 24, 33, 44), (231.2, 36, 47, 58), (234.7, 28, 37, 48), (238.2, 40, 50, 62), (241.7, 32, 41, 52),
              (247, 22, 31, 41), (249.6, 19, 27, 37), (251.4, 58, 68, 78), (255.7, 60, 70, 80), (259.2, 52, 62, 73),
              (264.5, 42, 52, 63), (269.8, 40, 50, 61)]
S35_SAND_21 = [(117.1, 42, 60, 75), (122.4, 78, 91, 99), (129.4, 80, 92, 100), (132.9, 84, 95, 100), (139.9, 78, 91, 99),
               (143.5, 70, 85, 96), (147, 80, 93, 100), (150.5, 76, 89, 98), (155.7, 40, 58, 74), (159.2, 15, 31, 47),
               (164.5, 4, 16, 30), (168, 0, 6, 18), (169.8, 34, 50, 66), (173.3, 31, 47, 63), (175, 12, 27, 42),
               (176.8, 0, 10, 24), (180.3, 70, 85, 96), (183.8, 66, 81, 94), (185.6, 54, 70, 85), (189.1, 25, 41, 57),
               (192.6, 8, 22, 37), (197.8, 2, 12, 25), (203.1, 0, 6, 17), (208.4, 0, 3, 12), (210.1, 6, 18, 32),
               (217.1, 1, 10, 22), (225.9, 1, 10, 22), (229.4, 60, 77, 90), (232.9, 52, 68, 83), (238.2, 55, 71, 86),
               (243.5, 48, 64, 80), (248.7, 25, 41, 57), (250.5, 66, 81, 94), (254, 58, 74, 88), (257.5, 56, 72, 86),
               (262.8, 42, 58, 74), (268, 31, 47, 63), (270.6, 31, 47, 63)]
# 100 cm
S100_SILT_19 = [(148.4, 78, 81, 84), (155.8, 75, 78, 81), (164.5, 70, 74, 77), (168, 66, 72, 76), (170.5, 75, 80, 86),
                (173.1, 76, 80, 84), (178.3, 74, 78, 81), (187, 71, 74, 77), (199.1, 67, 70, 73), (207.8, 67, 70, 73),
                (216.5, 65, 68, 71), (225.1, 64, 67, 70), (233.8, 63, 66, 69), (242.5, 62, 65, 68), (249.4, 58, 62, 66),
                (252.9, 60, 63, 66), (259.8, 59, 62, 65), (267.6, 57, 60, 64), (270.2, 90, 94, 98), (275.4, 94, 97, 100),
                (282.3, 95, 98, 100), (294.5, 95, 98, 100), (299.7, 90, 94, 98), (304, 86, 91, 95)]
S100_FLL_19 = [(202.6, 94, 99, 100), (211.3, 88, 97, 100), (225.1, 80, 94, 100), (242.5, 72, 89, 99), (256.3, 64, 84, 97),
               (266.7, 58, 79, 95), (268.5, 94, 98, 100), (304, 94, 98, 100)]
S100_SAND_19 = [(188.7, 90, 100, 100), (190.5, 82, 96, 100), (193.9, 78, 94, 100), (200.9, 74, 92, 100), (211.3, 70, 91, 100),
                (216.5, 62, 86, 98), (221.7, 58, 84, 97), (228.6, 55, 82, 96), (239, 54, 81, 95), (242.5, 52, 79, 94),
                (249.4, 48, 74, 92), (256.3, 46, 70, 90), (261.5, 45, 67, 88), (265, 45, 70, 89), (268.5, 45, 71, 90),
                (270.2, 92, 98, 100), (277.1, 92, 98, 100), (294.5, 88, 96, 100), (301.4, 80, 90, 97), (304, 76, 86, 95)]
S100_SILT_20 = [(117.1, 67, 71, 75), (132.4, 65, 69, 73), (141.1, 64, 68, 72), (149.7, 63, 67, 71), (158.4, 61, 65, 69),
                (166.2, 59, 63, 67), (167.9, 66, 74, 82), (174, 59, 67, 75), (177.5, 68, 76, 84), (180.9, 65, 73, 81),
                (184.4, 66, 74, 82), (191.3, 71, 79, 87), (196.5, 65, 73, 81), (201.7, 62, 69, 76), (213.5, 56, 62, 68),
                (222.4, 50, 55, 61), (231.2, 44, 49, 55), (238.2, 41, 46, 52), (243.5, 42, 47, 53), (252.2, 41, 46, 52),
                (262.8, 38, 43, 49), (275, 36, 41, 47), (283.8, 36, 41, 47), (292.6, 37, 42, 48), (306.3, 40, 45, 51)]
S100_FLL_20 = [(117.1, 92, 96, 100), (132.4, 88, 94, 99), (149.7, 84, 91, 98), (158.4, 78, 86, 94), (166.2, 70, 80, 90),
               (167.9, 94, 98, 100), (184.4, 90, 96, 100), (193.1, 88, 95, 100), (204.9, 86, 95, 100), (206.6, 80, 92, 99),
               (210.1, 68, 83, 95), (215.4, 62, 78, 92), (222.4, 58, 74, 89), (231.2, 52, 67, 82), (238.2, 42, 57, 72),
               (247, 40, 54, 68), (257.5, 36, 49, 62), (262.8, 32, 45, 58), (271.5, 28, 40, 52), (275, 26, 38, 50),
               (278.6, 27, 39, 51), (296.1, 28, 40, 52), (301.4, 40, 53, 66), (306.3, 42, 55, 68)]
S100_SAND_20 = [(117.1, 40, 65, 85), (122, 40, 64, 84), (125.5, 38, 61, 82), (128.9, 35, 58, 80), (132.4, 45, 68, 88),
                (135.9, 46, 69, 89), (141.1, 50, 71, 90), (146.3, 55, 76, 93), (153.2, 62, 82, 96), (160.1, 70, 88, 99),
                (165.3, 82, 96, 100), (167.1, 88, 99, 100), (175.7, 86, 98, 100), (184.4, 82, 96, 100), (187.9, 75, 92, 100),
                (193.1, 86, 98, 100), (198.3, 75, 92, 100), (201.7, 66, 86, 99), (204.9, 60, 82, 97), (210.1, 45, 67, 88),
                (215.4, 35, 57, 80), (222.4, 22, 45, 70), (227.7, 14, 36, 62), (235.6, 8, 28, 55), (237.3, 32, 57, 80),
                (240, 40, 63, 85), (245.2, 46, 69, 90), (250.5, 45, 68, 90), (254, 40, 63, 86), (261, 36, 59, 82),
                (266.3, 32, 55, 80), (271.5, 26, 49, 76), (275, 22, 45, 72), (278.6, 18, 40, 68), (282, 38, 61, 85),
                (285.6, 55, 78, 95), (292.6, 52, 76, 94), (299.6, 50, 75, 94), (302.2, 78, 94, 100), (306.3, 80, 95, 100)]
S100_SILT_21 = [(117.1, 71, 75, 79), (125.9, 68, 72, 76), (129.4, 70, 74, 78), (136.4, 76, 80, 84), (141.7, 74, 78, 82),
                (147, 72, 76, 80), (155.7, 63, 68, 73), (164.5, 56, 61, 66), (173.3, 48, 53, 58), (182, 42, 47, 52),
                (190.8, 33, 38, 43), (199.6, 26, 31, 36), (208.4, 22, 27, 32), (217.1, 20, 25, 30), (225.9, 19, 24, 29),
                (245, 19, 24, 29), (270.6, 19, 24, 29)]
S100_FLL_21 = [(117.1, 96, 100, 100), (155, 94, 99, 100), (157.5, 92, 98, 100), (161, 74, 86, 96), (164.5, 62, 76, 89),
               (169.8, 44, 59, 74), (173.3, 36, 51, 66), (182, 26, 40, 55), (190.8, 20, 34, 48), (199.6, 14, 29, 43),
               (208.4, 8, 23, 38), (217.1, 6, 21, 36), (225.9, 5, 20, 35), (248.7, 5, 20, 35), (250.5, 18, 32, 46),
               (255.7, 16, 30, 44), (270.6, 14, 28, 42)]
S100_SAND_21 = [(117.1, 62, 86, 100), (120.6, 60, 84, 100), (125.9, 50, 72, 92), (129.4, 75, 94, 100), (132.9, 82, 98, 100),
                (136.4, 80, 97, 100), (141.7, 78, 96, 100), (145.2, 70, 90, 100), (148.7, 60, 81, 97), (154, 62, 84, 99),
                (157.5, 58, 80, 96), (164.5, 35, 57, 80), (168, 30, 52, 76), (173.3, 28, 51, 75), (178.5, 30, 53, 77),
                (182, 32, 56, 80), (190.8, 30, 55, 80), (196.1, 28, 52, 78), (201.4, 14, 38, 65), (208.4, 4, 24, 52),
                (211.9, 2, 21, 50), (217.1, 1, 20, 50), (225.9, 0, 19, 52), (232.9, 0, 17, 55), (234.7, 3, 25, 60),
                (243.5, 5, 27, 62), (249.6, 8, 29, 65), (252.2, 40, 69, 96), (255.7, 44, 71, 97), (259.2, 42, 68, 95),
                (262.8, 42, 68, 95), (266.3, 40, 66, 94), (270.6, 36, 62, 92)]

# sensors stuck at a constant value (value, soil)
FLAT_RB = [(2.3, 'sand')]
FLAT_10 = [(15.5, 'silt'), (10, 'fll'), (6, 'fll')]
FLAT_35 = [(16.7, 'silt'), (13, 'silt'), (10, 'fll'), (6, 'fll')]
FLAT_100 = [(19.7, 'silt'), (16, 'fll'), (6.6, 'sand'), (5, 'silt')]

YEARS = ['2019', '2020', '2021']
XLIMS = [(148, 305), (117, 306.5), (117, 274)]
MONTH_STARTS = [[152, 182, 213, 244, 274], [122, 153, 183, 214, 245, 275], [121, 152, 182, 213, 244, 274]]
MONTH_LABELS = [['J', 'J', 'A', 'S', 'O'], ['M', 'J', 'J', 'A', 'S', 'O'], ['M', 'J', 'J', 'A', 'S']]
MONTH_LABEL_DAY = [[166, 197, 228, 258, 296], [137, 168, 198, 229, 259, 297], [137, 167, 197, 228.5, 259]]

PRECIP = [(P19_DAY, P19_MM), (P20_DAY, P20_MM), (P21_DAY, P21_MM)]
TEMPS = [
    {'air': T_AIR_19, 'silt': T_SILT_19, 'fll': T_FLL_19, 'sand': T_SAND_19},
    {'air': T_AIR_20, 'silt': T_SILT_20, 'fll': T_FLL_20, 'sand': T_SAND_20},
    {'air': T_AIR_21, 'silt': T_SILT_21, 'fll': T_FLL_21, 'sand': T_SAND_21},
]
REW_ROWS = [
    ('Root Ball', FLAT_RB, [{'silt': RB_SILT_19, 'fll': RB_FLL_19, 'sand': RB_SAND_19},
                           {'silt': RB_SILT_20, 'fll': RB_FLL_20, 'sand': RB_SAND_20},
                           {'silt': RB_SILT_21, 'fll': RB_FLL_21, 'sand': RB_SAND_21}]),
    ('10 cm', FLAT_10, [{'silt': S10_SILT_19, 'fll': S10_FLL_19, 'sand': S10_SAND_19},
                        {'silt': S10_SILT_20, 'fll': S10_FLL_20, 'sand': S10_SAND_20},
                        {'silt': S10_SILT_21, 'fll': S10_FLL_21, 'sand': S10_SAND_21}]),
    ('35 cm', FLAT_35, [{'silt': S35_SILT_19, 'fll': S35_FLL_19, 'sand': S35_SAND_19},
                        {'silt': S35_SILT_20, 'fll': S35_FLL_20, 'sand': S35_SAND_20},
                        {'silt': S35_SILT_21, 'fll': S35_FLL_21, 'sand': S35_SAND_21}]),
    ('100 cm', FLAT_100, [{'silt': S100_SILT_19, 'fll': S100_FLL_19, 'sand': S100_SAND_19},
                          {'silt': S100_SILT_20, 'fll': S100_FLL_20, 'sand': S100_SAND_20},
                          {'silt': S100_SILT_21, 'fll': S100_FLL_21, 'sand': S100_SAND_21}]),
]

MED_COL = {'silt': '#454545', 'fll': '#0b6a0b', 'sand': '#c05a1c'}
BAND_COL = {'silt': '#8a8a8a', 'fll': '#36a036', 'sand': '#f39a55'}
BAND_ALPHA = {'silt': 0.45, 'fll': 0.55, 'sand': 0.55}
FLAT_COL = {'silt': '#c8c8c8', 'fll': '#8fd08f', 'sand': '#f4c08c'}
TEMP_COL = {'air': '#ff8a8a', 'silt': '#808080', 'fll': '#3a8f3a', 'sand': '#f5a55f'}

# ---------------- layout (pixels of the 1247x983 canvas) ----------------
W, H = 1247, 983
COL_PX = [(122, 455), (475, 877), (895, 1230)]
ROW_PX = [(31, 128), (157, 319), (343, 503), (540, 701), (730, 891)]
LABEL_Y = [250, 432, 624, 818]

fig = plt.figure(figsize=(W / 100, H / 100), dpi=100)


def make_axes(c, r):
    x0, x1 = COL_PX[c]
    y0, y1 = ROW_PX[r]
    return fig.add_axes([x0 / W, 1 - y1 / H, (x1 - x0) / W, (y1 - y0) / H])


def style_axes(ax, c, yticks, yminor):
    for s in ['top', 'right']:
        ax.spines[s].set_visible(False)
    ax.spines['bottom'].set_linewidth(1.6)
    ax.spines['left'].set_linewidth(1.6)
    ax.set_xlim(*XLIMS[c])
    ax.set_xticks(MONTH_STARTS[c])
    ax.set_xticklabels([])
    ax.tick_params(axis='x', direction='out', length=8, width=1.5)
    if c == 0:
        ax.set_yticks(yticks)
        ax.set_yticks(yminor, minor=True)
        ax.tick_params(axis='y', which='major', direction='out', length=7, width=1.5, labelsize=15, pad=2)
        ax.tick_params(axis='y', which='minor', direction='out', length=4, width=1.3)
    else:
        ax.spines['left'].set_visible(False)
        ax.set_yticks([])


# top row: precipitation and temperatures
for c in range(3):
    ax = make_axes(c, 0)
    style_axes(ax, c, [0, 10, 20, 30], [])
    ax.set_ylim(0, 30)
    for g in (10, 20):
        ax.axhline(g, color='#999999', lw=0.9, ls=(0, (2, 2)), zorder=0)
    days, mm = PRECIP[c]
    ax.bar(days, mm, width=0.85, color='#0000ff', zorder=2)
    for key in ['air', 'silt', 'sand', 'fll']:
        t = np.array(TEMPS[c][key]).T
        ax.plot(t[0], t[1], color=TEMP_COL[key], lw=1.1, alpha=0.9 if key != 'air' else 0.8, zorder=3)
    if c == 2:
        sec = ax.secondary_yaxis('right')
        sec.set_yticks([10, 20])
        sec.set_yticklabels([])
        sec.tick_params(direction='out', length=7, width=1.5)
        sec.spines['right'].set_linewidth(1.6)

# REW rows
for r, (name, flats, per_year) in enumerate(REW_ROWS, start=1):
    for c in range(3):
        ax = make_axes(c, r)
        style_axes(ax, c, [0, 20, 40, 60, 80], [10, 30, 50, 70, 90])
        ax.set_ylim(0, 100)
        for m in MONTH_STARTS[c]:
            ax.axvline(m, color='#b5b5b5', lw=0.8, ls=(0, (3, 3)), zorder=0)
        for val, soil in flats:
            ax.axhline(val, color=FLAT_COL[soil], lw=1.0, zorder=1)
        for soil in ['silt', 'fll', 'sand']:
            d = np.array(per_year[c][soil]).T
            ax.fill_between(d[0], d[1], d[3], color=BAND_COL[soil], alpha=BAND_ALPHA[soil], lw=0, zorder=2)
        ax.axhline(40, color='#d40000', lw=2.2, ls=(0, (7, 2.5, 1.5, 2.5)), zorder=3)
        for soil in ['sand', 'fll', 'silt']:
            d = np.array(per_year[c][soil]).T
            ax.plot(d[0], d[2], color=MED_COL[soil], lw=1.9, zorder=4)
        if c == 0:
            if r == 1:
                ax.text(0.018, 0.975, name, transform=ax.transAxes, fontsize=14, va='top', ha='left', zorder=6,
                        bbox=dict(boxstyle='square,pad=0.2', fc='white', ec='black', lw=1))
            else:
                ax.text(0.018, 0.04, name, transform=ax.transAxes, fontsize=14, va='bottom', ha='left', zorder=6,
                        bbox=dict(boxstyle='square,pad=0.2', fc='white', ec='black', lw=1))
        if r == 4:
            for lab, day in zip(MONTH_LABELS[c], MONTH_LABEL_DAY[c]):
                ax.text(day, -0.16, lab, transform=ax.get_xaxis_transform(), fontsize=14, ha='center', va='center')

# broken-axis marks between the year panels
for r in range(5):
    yb = ROW_PX[r][1]
    for xe in [COL_PX[0][1], COL_PX[1][0], COL_PX[1][1], COL_PX[2][0]]:
        fig.add_artist(Line2D([(xe - 8) / W, (xe + 8) / W], [1 - (yb + 11) / H, 1 - (yb - 11) / H],
                              transform=fig.transFigure, color='black', lw=1.4))

# axis titles
fig.text(25 / W, 1 - 78 / H, 'Precip. (mm)', rotation=90, fontsize=17, ha='center', va='center')
for yc in LABEL_Y:
    fig.text(27 / W, 1 - yc / H, 'REW (%)', rotation=90, fontsize=23, ha='center', va='center')
for yr, xc in zip(YEARS, [274, 656, 1038]):
    fig.text(xc / W, 1 - 967 / H, yr, fontsize=20, ha='center', va='center')

handles = [Line2D([0], [0], color=TEMP_COL[k], lw=2) for k in ['air', 'silt', 'fll', 'sand']]
labels = ['Air-Temp.', "Soil T ('Loamy-Silt')", "Soil T ('FLL')", "Soil T ('Sand')"]
fig.legend(handles, labels, loc='upper right', bbox_to_anchor=(1238 / W, 1 - 3 / H), ncol=4, frameon=False,
           prop={'weight': 'bold', 'size': 12}, handlelength=0.7, handletextpad=0.6, columnspacing=0.9)

fig.savefig('out.png', dpi=100)
